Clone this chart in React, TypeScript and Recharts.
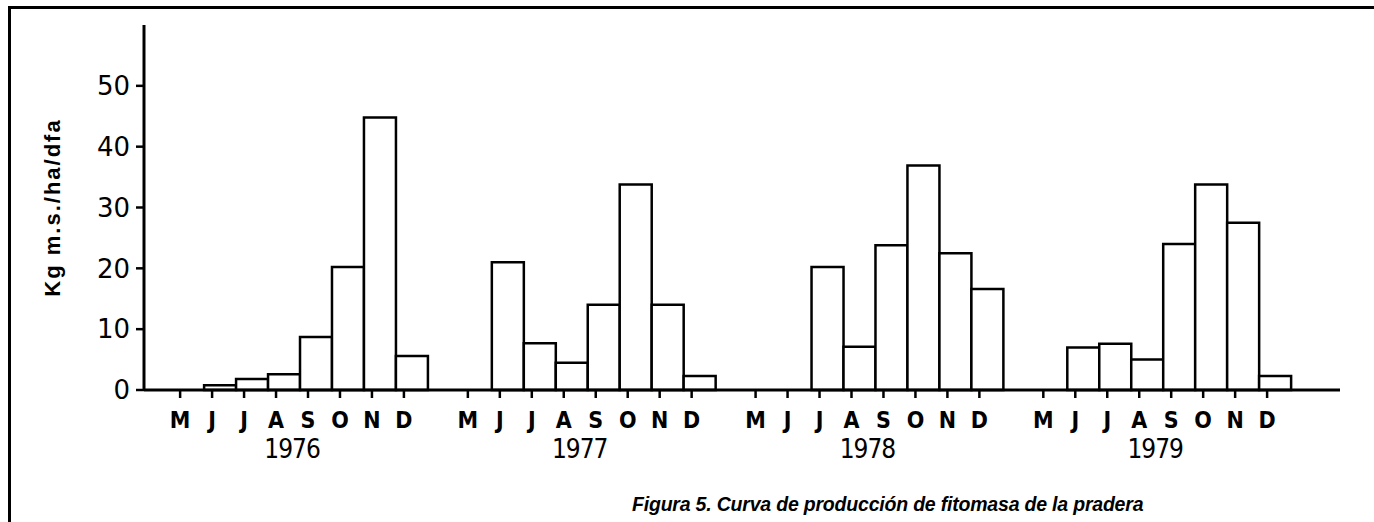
import React from "react";
import { BarChart, Bar, XAxis, YAxis } from "recharts";

const MONTHS = ["M", "J", "J", "A", "S", "O", "N", "D"];
const YEARS = ["1976", "1977", "1978", "1979"];

const V1976 = [0, 0.8, 1.8, 2.6, 8.7, 20.2, 44.8, 5.6];
const V1977 = [0, 21.0, 7.7, 4.5, 14.0, 33.8, 14.0, 2.3];
const V1978 = [0, 0, 20.2, 7.1, 23.8, 36.9, 22.5, 16.6];
const V1979 = [0, 7.0, 7.6, 5.0, 24.0, 33.8, 27.5, 2.3];
const SERIES = [V1976, V1977, V1978, V1979];

const Y_TICKS = [0, 10, 20, 30, 40, 50];

// each year takes 9 slots on the axis: 8 months + one empty slot
const SLOTS = 9;
const SHIFT = 0.25; // bars sit a bit right of their tick in the original drawing

const data = YEARS.flatMap((yr, yi) =>
  MONTHS.map((m, mi) => ({ pos: yi * SLOTS + mi + SHIFT, value: SERIES[yi][mi], month: m, year: yr }))
);
const monthTicks = YEARS.flatMap((_, yi) => MONTHS.map((_, mi) => yi * SLOTS + mi));
const yearTicks = YEARS.map((_, yi) => yi * SLOTS + 3.5);

const MonthTick = ({ x, y, payload }: any) => {
  const idx = ((Math.round(payload.value) % SLOTS) + SLOTS) % SLOTS;
  return (
    <text x={x} y={y + 28} textAnchor="middle" fontFamily="DejaVu Sans Condensed" fontWeight="bold" fontSize={23} fill="#000">
      {MONTHS[idx]}
    </text>
  );
};

const YearTick = ({ x, y, payload }: any) => (
  <text x={x} y={y + 20} textAnchor="middle" fontFamily="DejaVu Sans Condensed" fontSize={26} letterSpacing={-1} fill="#000">
    {YEARS[Math.floor(payload.value / SLOTS)]}
  </text>
);

const YLabel = ({ viewBox }: any) => {
  const cx = viewBox.x + 8;
  const cy = viewBox.y + viewBox.height / 2;
  return (
    <text x={cx} y={cy} transform={`rotate(-90 ${cx} ${cy})`} textAnchor="middle" dominantBaseline="central"
      fontFamily="Liberation Sans" fontWeight="bold" fontSize={22} letterSpacing={2} fill="#000">
      Kg m.s./ha/dfa
    </text>
  );
};

export default function App() {
  return (
    <div style={{ position: "absolute", left: 0, top: 0, width: 1374, height: 522, background: "#fff", overflow: "hidden" }}>
      <div style={{ position: "absolute", left: 8, top: 6, right: 0, bottom: 0, borderTop: "3px solid #000", borderLeft: "3px solid #000" }} />
      <BarChart width={1374} height={522} data={data} barCategoryGap={0} barGap={0}
        margin={{ top: 25, right: 34, bottom: 62, left: 44 }}>
        <XAxis dataKey="pos" type="number" domain={[-1.13, 36.28]} allowDataOverflow ticks={monthTicks}
          interval={0} height={40} tickSize={8} tick={<MonthTick />}
          axisLine={{ stroke: "#000", strokeWidth: 3 }} tickLine={{ stroke: "#000", strokeWidth: 2.5 }} />
        <XAxis xAxisId="yr" dataKey="pos" type="number" domain={[-1.13, 36.28]} allowDataOverflow ticks={yearTicks}
          interval={0} height={30} axisLine={false} tickLine={false} tick={<YearTick />} />
        <YAxis type="number" domain={[0, 60]} ticks={Y_TICKS} interval={0} width={100} tickSize={8} tickMargin={6}
          axisLine={{ stroke: "#000", strokeWidth: 3 }} tickLine={{ stroke: "#000", strokeWidth: 2.5 }}
          tick={{ fill: "#000", fontSize: 26, fontFamily: "DejaVu Sans" }}
          label={<YLabel />} />
        <Bar dataKey="value" fill="#fff" stroke="#000" strokeWidth={2.5} isAnimationActive={false} />
      </BarChart>
      <div style={{ position: "absolute", left: 632, top: 493, fontFamily: "Liberation Sans", fontWeight: "bold",
        fontStyle: "italic", fontSize: 19.5, color: "#000", whiteSpace: "nowrap", letterSpacing: -0.2 }}>
        Figura 5. Curva de producción de fitomasa de la pradera
      </div>
    </div>
  );
}
